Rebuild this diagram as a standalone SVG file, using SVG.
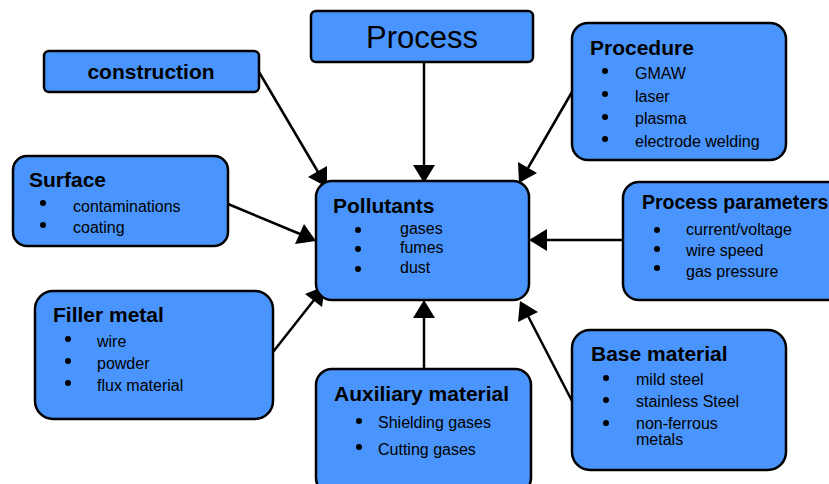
<svg xmlns="http://www.w3.org/2000/svg" width="829" height="484" viewBox="0 0 829 484">
<defs>
<style>
.box{fill:#4a95fd;stroke:#000;stroke-width:2.5}
text{font-family:"Liberation Sans",Arial,sans-serif;fill:#000}
.t{font-size:21px;font-weight:bold}
.i{font-size:16px}
.c{stroke:#000;stroke-width:2.5;fill:none}
.hd{fill:#000}
.d{fill:#000}
</style>
</defs>
<rect width="829" height="484" fill="#fff"/>
<g id="connectors">
<line class="c" x1="259" y1="72" x2="318" y2="172"/>
<polygon class="hd" points="327,187 308,177 327,166"/>
<line class="c" x1="424" y1="62" x2="424" y2="166"/>
<polygon class="hd" points="424,183 413,165 435,165"/>
<line class="c" x1="572" y1="92" x2="528" y2="168"/>
<polygon class="hd" points="519,183 518,162 537,173"/>
<line class="c" x1="228" y1="204" x2="300" y2="234"/>
<polygon class="hd" points="316,241 295,244 304,224"/>
<line class="c" x1="623" y1="240" x2="546" y2="240"/>
<polygon class="hd" points="529,240 547,229 547,251"/>
<line class="c" x1="273" y1="352" x2="314" y2="300"/>
<polygon class="hd" points="325,286 322,307 305,294"/>
<line class="c" x1="424" y1="369" x2="424" y2="317"/>
<polygon class="hd" points="424,300 435,318 413,318"/>
<line class="c" x1="572" y1="401" x2="528" y2="316"/>
<polygon class="hd" points="520,301 538,312 518,322"/>
</g>
<g id="construction">
<rect class="box" x="44" y="51" width="215" height="41" rx="5"/>
<text class="t" x="151" y="79" text-anchor="middle">construction</text>
</g>
<g id="process">
<rect class="box" x="311" y="11" width="222" height="51" rx="5"/>
<text x="422" y="48" text-anchor="middle" font-size="31">Process</text>
</g>
<g id="procedure">
<rect class="box" x="572" y="23" width="214" height="137" rx="16"/>
<text class="t" x="590" y="55">Procedure</text>
<circle class="d" cx="605" cy="71" r="3"/><text class="i" x="635" y="79">GMAW</text>
<circle class="d" cx="605" cy="94" r="3"/><text class="i" x="635" y="102">laser</text>
<circle class="d" cx="605" cy="117" r="3"/><text class="i" x="635" y="124">plasma</text>
<circle class="d" cx="605" cy="139" r="3"/><text class="i" x="635" y="147">electrode welding</text>
</g>
<g id="surface">
<rect class="box" x="13" y="156" width="215" height="90" rx="14"/>
<text class="t" x="29" y="187">Surface</text>
<circle class="d" cx="43" cy="203" r="3"/><text class="i" x="73" y="212">contaminations</text>
<circle class="d" cx="43" cy="225" r="3"/><text class="i" x="73" y="233">coating</text>
</g>
<g id="pollutants">
<rect class="box" x="316" y="181" width="213" height="119" rx="16"/>
<text class="t" x="333" y="213">Pollutants</text>
<circle class="d" cx="358" cy="230" r="3"/><text class="i" x="400" y="234">gases</text>
<circle class="d" cx="358" cy="249" r="3"/><text class="i" x="400" y="253">fumes</text>
<circle class="d" cx="358" cy="269" r="3"/><text class="i" x="400" y="273">dust</text>
</g>
<g id="process-parameters">
<rect class="box" x="623" y="182" width="220" height="118" rx="16"/>
<text class="t" x="642" y="209" style="font-size:19.5px">Process parameters</text>
<circle class="d" cx="657" cy="230" r="3"/><text class="i" x="686" y="235">current/voltage</text>
<circle class="d" cx="657" cy="249" r="3"/><text class="i" x="686" y="256">wire speed</text>
<circle class="d" cx="657" cy="268" r="3"/><text class="i" x="686" y="277">gas pressure</text>
</g>
<g id="filler-metal">
<rect class="box" x="35" y="291" width="238" height="128" rx="18"/>
<text class="t" x="53" y="322">Filler metal</text>
<circle class="d" cx="68" cy="339" r="3"/><text class="i" x="97" y="347">wire</text>
<circle class="d" cx="68" cy="361" r="3"/><text class="i" x="97" y="369">powder</text>
<circle class="d" cx="68" cy="383" r="3"/><text class="i" x="97" y="391">flux material</text>
</g>
<g id="auxiliary-material">
<rect class="box" x="316" y="369" width="215" height="125" rx="16"/>
<text class="t" x="334" y="401">Auxiliary material</text>
<circle class="d" cx="359" cy="421" r="3"/><text class="i" x="378" y="428">Shielding gases</text>
<circle class="d" cx="359" cy="447" r="3"/><text class="i" x="378" y="455">Cutting gases</text>
</g>
<g id="base-material">
<rect class="box" x="572" y="330" width="214" height="140" rx="18"/>
<text class="t" x="591" y="361">Base material</text>
<circle class="d" cx="606" cy="378" r="3"/><text class="i" x="636" y="385">mild steel</text>
<circle class="d" cx="606" cy="400" r="3"/><text class="i" x="636" y="407">stainless Steel</text>
<circle class="d" cx="606" cy="423" r="3"/><text class="i" x="636" y="429">non-ferrous</text>
<text class="i" x="636" y="445">metals</text>
</g>
</svg>
